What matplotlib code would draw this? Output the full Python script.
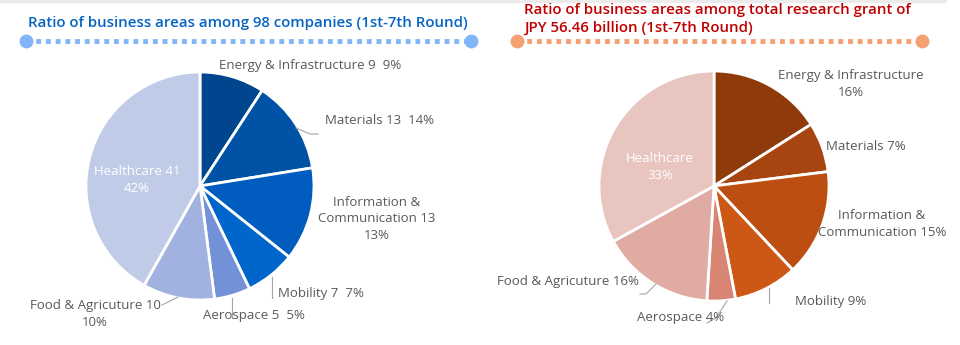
import numpy as np
import matplotlib.pyplot as plt

plt.rcParams['font.family'] = ['Open Sans', 'DejaVu Sans']

# data
areas = ['Energy & Infrastructure', 'Materials', 'Information & Communication',
         'Mobility', 'Aerospace', 'Food & Agriculture', 'Healthcare']
companies = [9, 13, 13, 7, 5, 10, 41]
grant_pct = [16, 7, 15, 9, 4, 16, 33]

left_labels = ['Energy & Infrastructure 9  9%', 'Materials 13  14%',
               'Information &\nCommunication 13\n13%', 'Mobility 7  7%',
               'Aerospace 5  5%', 'Food & Agricuture 10\n10%', 'Healthcare 41\n42%']
right_labels = ['Energy & Infrastructure\n16%', 'Materials 7%',
                'Information &\nCommunication 15%', 'Mobility 9%',
                'Aerospace 4%', 'Food & Agricuture 16%', 'Healthcare\n33%']

blues = ['#00468e', '#0052a6', '#005cbf', '#0066cc', '#7391d6', '#a1b1e0', '#c0cbe8']
oranges = ['#8f3a0b', '#a8440f', '#bc4e12', '#cd5715', '#d88573', '#e0aba3', '#e8c5bf']

W, H = 960, 345
fig = plt.figure(figsize=(9.6, 3.45), dpi=100)
ax = fig.add_axes([0, 0, 1, 1])


def Y(y):
    return H - y


gray = '#595959'
wp = dict(edgecolor='white', linewidth=2)
ax.pie(companies, colors=blues, startangle=90, counterclock=False,
       center=(200, Y(186)), radius=114, wedgeprops=wp, frame=True)
ax.pie(grant_pct, colors=oranges, startangle=90, counterclock=False,
       center=(714, Y(186)), radius=115, wedgeprops=wp, frame=True)
ax.set_xlim(0, W)
ax.set_ylim(0, H)
ax.set_aspect('equal')
ax.axis('off')

fs = 9.5
ls = 1.38
# left labels (pixel layout)
lpos = [(219, 66, 'left'), (325, 121, 'left'), (377, 219, 'center'),
        (278, 293, 'left'), (203, 315, 'left'), (95, 314, 'center'),
        (137, 180, 'center')]
for i, (x, y, ha) in enumerate(lpos):
    c = 'white' if i == 6 else gray
    ax.text(x, Y(y), left_labels[i], ha=ha, va='center', fontsize=fs,
            color=c, linespacing=ls)

rpos = [(851, 84, 'center'), (826, 146, 'left'), (882, 224, 'center'),
        (795, 302, 'left'), (637, 318, 'left'), (497, 281, 'left'),
        (660, 167, 'center')]
for i, (x, y, ha) in enumerate(rpos):
    c = 'white' if i == 6 else gray
    ax.text(x, Y(y), right_labels[i], ha=ha, va='center', fontsize=fs,
            color=c, linespacing=ls)

# leader lines
lc = '#a6a6a6'
leaders = [
    [(296, 128), (310, 134), (318, 134)],
    [(272, 277), (272, 298)],
    [(232, 298), (232, 318)],
    [(178, 297), (162, 305)],
    [(769, 288), (769, 303)],
    [(727, 301), (716, 318), (707, 323)],
    [(656, 284), (646, 294), (640, 294)],
]
for pts in leaders:
    xs = [p[0] for p in pts]
    ys = [Y(p[1]) for p in pts]
    ax.plot(xs, ys, color=lc, lw=0.8)

# titles with dotted rules
ax.text(28, Y(23), 'Ratio of business areas among 98 companies (1st-7th Round)',
        ha='left', va='center', fontsize=10.8, color='#0563c1', fontweight='semibold')
ax.text(524, Y(19), 'Ratio of business areas among total research grant of\nJPY 56.46 billion (1st-7th Round)',
        ha='left', va='center', fontsize=10.8, color='#c00000', fontweight='semibold',
        linespacing=1.4)

for x0, x1, y, col in [(26, 471, 41, '#80b6f8'), (517, 922, 41, '#f4a070')]:
    ax.plot([x0, x1], [Y(y), Y(y)], color=col, lw=3.5, ls=(0, (1, 1)),
            solid_capstyle='butt', dash_capstyle='butt')
    ax.plot([x0, x1], [Y(y), Y(y)], 'o', color=col, ms=10, mec='none')

# faint shadow along the top
ax.plot([0, 945], [Y(1), Y(1)], color='#ebebeb', lw=2.5)

fig.savefig('out.png', dpi=100)
